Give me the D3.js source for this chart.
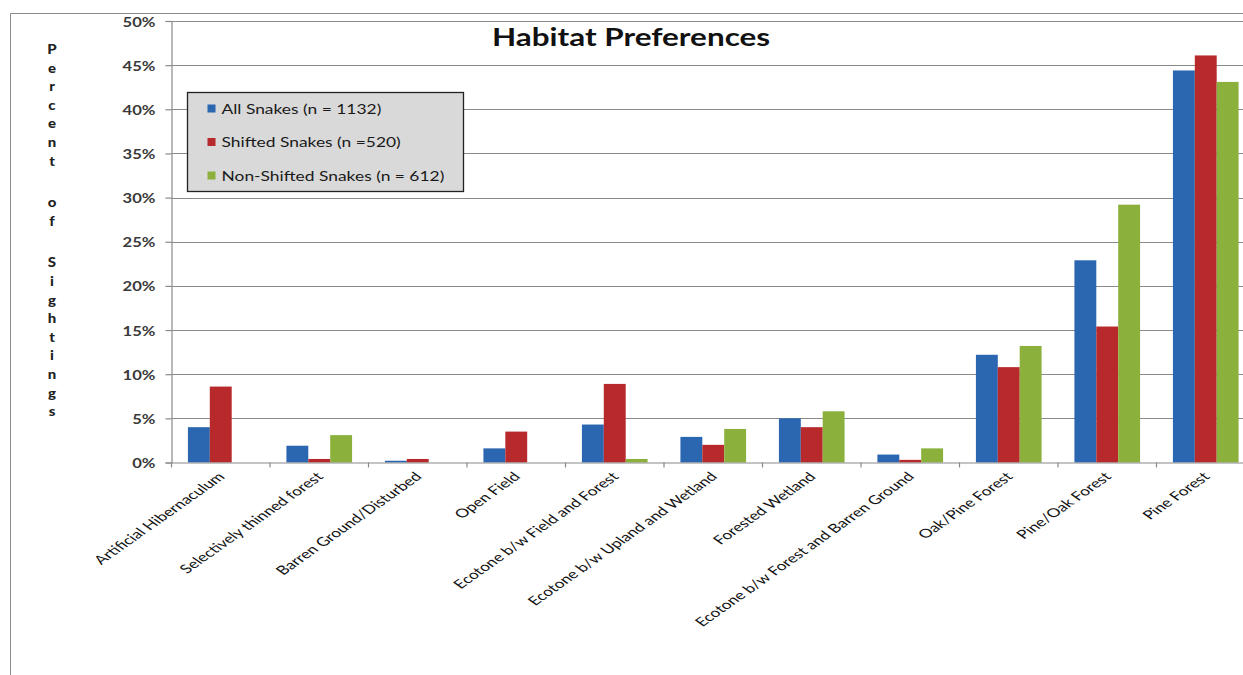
<!DOCTYPE html>
<html>
<head>
<meta charset="utf-8">
<script src="https://cdn.jsdelivr.net/npm/d3@7"></script>
<style>
  html, body { margin: 0; padding: 0; background: #fff; }
  svg { display: block; }
  text { font-family: Lato, "Open Sans", sans-serif; }
</style>
</head>
<body>
<svg id="chart" width="1243" height="675"></svg>
<script>
// Habitat categories along the x axis
const categories = [
  "Artificial Hibernaculum",
  "Selectively thinned forest",
  "Barren Ground/Disturbed",
  "Open Field",
  "Ecotone b/w Field and Forest",
  "Ecotone b/w Upland and Wetland",
  "Forested Wetland",
  "Ecotone b/w Forest and Barren Ground",
  "Oak/Pine Forest",
  "Pine/Oak Forest",
  "Pine Forest"
];

// Percent of sightings per habitat
const allSnakes        = [4.0, 1.9, 0.2, 1.6, 4.3, 2.9, 5.0, 0.9, 12.2, 22.9, 44.4];
const shiftedSnakes    = [8.6, 0.4, 0.4, 3.5, 8.9, 2.0, 4.0, 0.3, 10.8, 15.4, 46.1];
const nonShiftedSnakes = [0.0, 3.1, 0.0, 0.0, 0.4, 3.8, 5.8, 1.6, 13.2, 29.2, 43.1];

const seriesNames = ["All Snakes (n = 1132)", "Shifted Snakes (n =520)", "Non-Shifted Snakes (n = 612)"];
const seriesColors = ["#2b66b1", "#b7292a", "#8bb13c"];
const yTicks = [0, 5, 10, 15, 20, 25, 30, 35, 40, 45, 50];
const chartTitle = "Habitat Preferences";
const yTitle = "Percent of Sightings";

const series = [allSnakes, shiftedSnakes, nonShiftedSnakes];

const svg = d3.select("#chart");
const TX = 1.28; // horizontal stretch applied to text

// Page background and frame
svg.append("rect").attr("width", 1243).attr("height", 675).attr("fill", "#fff");
svg.append("path")
  .attr("d", "M10.5,675 V13.5 H1243")
  .attr("fill", "none").attr("stroke", "#8c8c8c").attr("stroke-width", 1);

// Plot area
const plot = { left: 171.5, right: 1255, top: 21, bottom: 462.5 };

const x = d3.scaleBand().domain(categories).range([plot.left, plot.right]).padding(0);
const xs = d3.scaleBand().domain(d3.range(series.length))
  .range([0, x.bandwidth()]).paddingInner(0).paddingOuter(0.75);
const y = d3.scaleLinear().domain([0, 50]).range([plot.bottom, plot.top]);

// Horizontal gridlines
svg.append("g").selectAll("line").data(yTicks.filter(t => t > 0)).join("line")
  .attr("x1", plot.left).attr("x2", 1243)
  .attr("y1", d => Math.round(y(d)) + 0.5).attr("y2", d => Math.round(y(d)) + 0.5)
  .attr("stroke", "#8a8a8a").attr("stroke-width", 1.2);

// Bars
const groups = svg.append("g").selectAll("g").data(categories).join("g")
  .attr("transform", d => `translate(${x(d)},0)`);
groups.selectAll("rect")
  .data((c, i) => series.map((s, k) => ({ k, v: s[i] })))
  .join("rect")
  .attr("x", d => xs(d.k))
  .attr("width", xs.bandwidth())
  .attr("y", d => y(d.v))
  .attr("height", d => y(0) - y(d.v))
  .attr("fill", d => seriesColors[d.k]);

// Y axis
const yAxis = svg.append("g")
  .attr("transform", `translate(${plot.left},0)`)
  .call(d3.axisLeft(y).tickValues(yTicks).tickFormat(d => d + "%").tickSize(6).tickPadding(0));
yAxis.select(".domain").attr("stroke", "#8a8a8a").attr("stroke-width", 1.2);
yAxis.selectAll(".tick line").attr("stroke", "#8a8a8a").attr("stroke-width", 1.2);
yAxis.selectAll(".tick text").remove();
yAxis.selectAll(".tick").append("text")
  .attr("transform", `translate(-16,5) scale(${TX},1)`)
  .attr("text-anchor", "end")
  .attr("fill", "#3a3a3a")
  .attr("font-size", 13)
  .attr("font-weight", 700)
  .text(d => d + "%");

// X axis
const xAxis = svg.append("g")
  .attr("transform", `translate(0,${plot.bottom})`)
  .call(d3.axisBottom(x).tickSize(0).tickFormat(""));
xAxis.select(".domain").attr("stroke", "#8a8a8a").attr("stroke-width", 1.2);
xAxis.append("g").selectAll("line")
  .data(d3.range(categories.length + 1))
  .join("line")
  .attr("x1", i => plot.left + i * x.step()).attr("x2", i => plot.left + i * x.step())
  .attr("y1", 0).attr("y2", 5)
  .attr("stroke", "#8a8a8a").attr("stroke-width", 1.2);

// Category labels, slanted
svg.append("g").selectAll("text").data(categories).join("text")
  .attr("transform", d => `translate(${x(d) + x.bandwidth() / 2 + 5},${plot.bottom + 15}) scale(1.42,1) rotate(-45)`)
  .attr("text-anchor", "end")
  .attr("font-size", 12.3)
  .attr("fill", "#111")
  .text(d => d);

// Title
svg.append("text")
  .attr("transform", `translate(631,46) scale(1.31,1)`)
  .attr("text-anchor", "middle")
  .attr("font-size", 24)
  .attr("font-weight", 700)
  .attr("fill", "#111")
  .text(chartTitle);

// Vertical y-axis title, one letter per line
const letters = [];
let ly = 54;
for (const ch of yTitle) {
  if (ch === " ") { ly += 23; continue; }
  letters.push({ ch, y: ly });
  ly += 18.6;
}
svg.append("g").selectAll("text").data(letters).join("text")
  .attr("transform", d => `translate(52,${d.y}) scale(1.2,1)`)
  .attr("text-anchor", "middle")
  .attr("font-size", 12.5)
  .attr("font-weight", 900)
  .attr("fill", "#222")
  .text(d => d.ch);

// Legend
const legend = svg.append("g").attr("transform", "translate(187.5,92.5)");
legend.append("rect")
  .attr("width", 276).attr("height", 99)
  .attr("fill", "#d9d9d9").attr("stroke", "#222").attr("stroke-width", 1.3);
const rows = legend.selectAll("g").data(seriesNames).join("g")
  .attr("transform", (d, i) => `translate(20,${16 + i * 33.5})`);
rows.append("rect")
  .attr("x", 0).attr("y", -4).attr("width", 8).attr("height", 8)
  .attr("fill", (d, i) => seriesColors[i]);
rows.append("text")
  .attr("transform", `translate(14,5) scale(1.32,1)`)
  .attr("font-size", 13.2)
  .attr("fill", "#1a1a1a")
  .text(d => d);
</script>
</body>
</html>
